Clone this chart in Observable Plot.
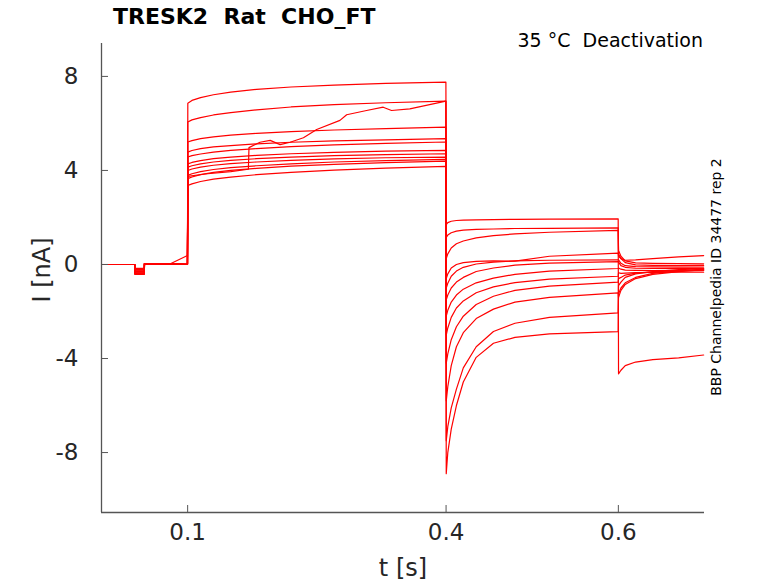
<!DOCTYPE html>
<html><head><meta charset="utf-8">
<script src="https://cdn.jsdelivr.net/npm/d3@7"></script>
<script src="https://cdn.jsdelivr.net/npm/@observablehq/plot@0.6"></script>
<style>
body{margin:0;background:#fff;}
#wrap{position:relative;width:778px;height:583px;font-family:"DejaVu Sans",sans-serif;}
.t{position:absolute;white-space:pre;line-height:1;}
.c{transform:translate(-50%,-50%);}
.r{transform:translate(-50%,-50%) rotate(-90deg);}
</style></head><body>
<div id="wrap">
 <div class="t" style="left:113px;top:6px;font-size:22px;font-weight:bold;color:#000;">TRESK2  Rat  CHO_FT</div>
 <div class="t" style="right:75px;top:31px;font-size:19px;color:#000;">35 °C  Deactivation</div>
 <div class="t r" style="left:716px;top:277px;font-size:14px;color:#000;">BBP Channelpedia ID 34477 rep 2</div>
 <div class="t r" style="left:42px;top:270px;font-size:24px;color:#262626;">I [nA]</div>
 <div class="t c" style="left:403px;top:568px;font-size:24px;color:#262626;">t [s]</div>
</div>
<script>
// axis domains and tick values
const xDomain = [0, 0.7];
const yDomain = [-10.55, 9.4];
const xTicks = [0.1, 0.4, 0.6];
const yTicks = [-8, -4, 0, 4, 8];

// time grids (s) for each protocol phase
const tBase = [0, 0.0385, 0.0387, 0.0497, 0.0499, 0.08, 0.0998];
const tAct = [0.1002, 0.105, 0.115, 0.13, 0.15, 0.18, 0.22, 0.27, 0.33, 0.3998];
const tDeact = [0.4002, 0.402, 0.406, 0.412, 0.42, 0.435, 0.455, 0.48, 0.52, 0.5998];
const tFinal = [0.6002, 0.603, 0.608, 0.62, 0.64, 0.67, 0.699];

// baseline current (nA), one row per sweep
const baseI = [
  [0, 0, -0.42, -0.42, 0.04, 0.03, 0.0],
  [0, 0, -0.40, -0.40, 0.04, 0.03, 0.0],
  [0, 0, -0.36, -0.36, 0.04, 0.03, 0.01],
  [0, 0, -0.33, -0.33, 0.04, 0.03, 0.01],
  [0, 0, -0.30, -0.30, 0.04, 0.03, 0.0],
  [0, 0, -0.27, -0.27, 0.04, 0.03, 0.0],
  [0, 0, -0.24, -0.24, 0.04, 0.03, 0.02],
  [0, 0, -0.21, -0.21, 0.04, 0.03, 0.0],
  [0, 0, -0.18, -0.18, 0.04, 0.03, 0.01],
  [0, 0, -0.16, -0.16, 0.04, 0.03, 0.0],
  [0, 0, -0.38, -0.38, 0.04, 0.03, 0.0],
  [0, 0, -0.40, -0.40, 0.04, 0.03, 0.38]
];

// activation step (0.1-0.4 s), one row per sweep (row 3 uses its own grid below)
const actI = [
  [6.86, 6.98, 7.10, 7.22, 7.33, 7.45, 7.55, 7.63, 7.70, 7.76],
  [6.06, 6.15, 6.25, 6.36, 6.46, 6.58, 6.70, 6.80, 6.88, 6.95],
  [5.21, 5.27, 5.35, 5.43, 5.50, 5.58, 5.65, 5.72, 5.78, 5.84],
  null,
  [4.78, 4.85, 4.93, 5.00, 5.06, 5.13, 5.20, 5.26, 5.30, 5.35],
  [4.57, 4.63, 4.70, 4.78, 4.85, 4.93, 5.01, 5.09, 5.15, 5.21],
  [4.28, 4.34, 4.42, 4.50, 4.57, 4.64, 4.71, 4.77, 4.82, 4.85],
  [4.14, 4.20, 4.28, 4.36, 4.43, 4.50, 4.57, 4.63, 4.67, 4.71],
  [4.00, 4.06, 4.14, 4.22, 4.29, 4.36, 4.43, 4.49, 4.54, 4.57],
  [3.79, 3.86, 3.95, 4.04, 4.12, 4.20, 4.28, 4.36, 4.42, 4.47],
  [3.65, 3.72, 3.82, 3.92, 4.00, 4.09, 4.18, 4.26, 4.33, 4.40],
  [3.36, 3.43, 3.53, 3.63, 3.72, 3.82, 3.92, 4.01, 4.10, 4.17]
];
// the drifting sweep during activation
const tWander = [0.1002, 0.12, 0.15, 0.1705, 0.1712, 0.184, 0.1958, 0.2073, 0.2189, 0.2344, 0.2498, 0.2768, 0.2846, 0.3077, 0.327, 0.3367, 0.3579, 0.3998];
const wanderI = [3.75, 3.85, 3.95, 4.05, 4.97, 5.2, 5.28, 5.1, 5.2, 5.39, 5.74, 6.13, 6.37, 6.55, 6.69, 6.55, 6.62, 6.95];

// deactivation tails (0.4-0.6 s)
const deactI = [
  [1.70, 1.78, 1.84, 1.87, 1.89, 1.90, 1.91, 1.92, 1.93, 1.94],
  [1.15, 1.25, 1.35, 1.42, 1.46, 1.49, 1.51, 1.53, 1.54, 1.56],
  [0.25, 0.45, 0.70, 0.88, 1.00, 1.13, 1.23, 1.30, 1.37, 1.45],
  [-0.60, -0.40, -0.15, 0.00, 0.08, 0.13, 0.15, 0.14, 0.35, 0.48],
  [-1.00, -0.80, -0.50, -0.28, -0.12, 0.02, 0.10, 0.15, 0.18, 0.20],
  [-1.50, -1.30, -1.00, -0.75, -0.55, -0.30, -0.15, -0.03, 0.06, 0.12],
  [-2.20, -1.95, -1.60, -1.30, -1.05, -0.78, -0.58, -0.42, -0.28, -0.17],
  [-3.00, -2.70, -2.25, -1.85, -1.55, -1.20, -0.95, -0.77, -0.62, -0.50],
  [-4.20, -3.80, -3.20, -2.65, -2.20, -1.70, -1.35, -1.10, -0.92, -0.75],
  [-5.80, -5.20, -4.30, -3.50, -2.90, -2.30, -1.90, -1.60, -1.40, -1.21],
  [-7.50, -6.90, -6.10, -5.30, -4.40, -3.50, -2.85, -2.50, -2.25, -2.06],
  [-8.90, -8.00, -7.00, -6.00, -5.00, -3.95, -3.35, -3.10, -2.95, -2.86]
];

// final step (0.6-0.7 s)
const finalI = [
  [-4.65, -4.50, -4.30, -4.15, -4.05, -3.97, -3.85],
  [0.60, 0.35, 0.15, 0.07, 0.05, 0.04, 0.03],
  [0.45, 0.25, 0.08, -0.02, -0.04, -0.05, -0.04],
  [0.35, 0.25, 0.18, 0.20, 0.25, 0.32, 0.38],
  [0.20, 0.05, -0.05, -0.09, -0.10, -0.11, -0.11],
  [0.10, -0.05, -0.12, -0.16, -0.17, -0.18, -0.18],
  [-0.15, -0.20, -0.24, -0.25, -0.26, -0.26, -0.26],
  [-0.35, -0.38, -0.37, -0.35, -0.34, -0.33, -0.33],
  [-0.60, -0.55, -0.45, -0.37, -0.31, -0.27, -0.25],
  [-1.40, -1.10, -0.85, -0.60, -0.42, -0.30, -0.22],
  [-1.25, -1.00, -0.78, -0.55, -0.38, -0.27, -0.20],
  [-0.90, -0.75, -0.55, -0.40, -0.30, -0.22, -0.18]
];

const points = [];
for (let k = 0; k < baseI.length; k++) {
  const push = (ts, vs) => ts.forEach((t, j) => points.push({trace: k, t, i: vs[j]}));
  push(tBase, baseI[k]);
  if (actI[k]) push(tAct, actI[k]); else push(tWander, wanderI);
  push(tDeact, deactI[k]);
  push(tFinal, finalI[k]);
}

const chart = Plot.plot({
  width: 778, height: 583,
  marginLeft: 101, marginRight: 74, marginTop: 43, marginBottom: 71,
  style: {background: "transparent", fontFamily: "DejaVu Sans, sans-serif", fontSize: "23px", color: "#262626"},
  x: {domain: xDomain},
  y: {domain: yDomain},
  marks: [
    Plot.line(points, {x: "t", y: "i", z: "trace", stroke: "#ff0000", strokeWidth: 1.2}),
    Plot.ruleX([xDomain[0]], {stroke: "#555", strokeWidth: 1.3}),
    Plot.ruleY([yDomain[0]], {stroke: "#555", strokeWidth: 1.3}),
    Plot.axisX(xTicks, {tickSize: -7, tickPadding: 18, label: null, tickFormat: d => d.toFixed(1), stroke: "#555", fontSize: 23}),
    Plot.axisY(yTicks, {tickSize: -7, tickPadding: 30, label: null, tickFormat: d => String(d), stroke: "#555", fontSize: 23})
  ]
});
chart.style.position = "absolute";
chart.style.left = "0px";
chart.style.top = "0px";
document.getElementById("wrap").prepend(chart);
</script>
</body></html>
